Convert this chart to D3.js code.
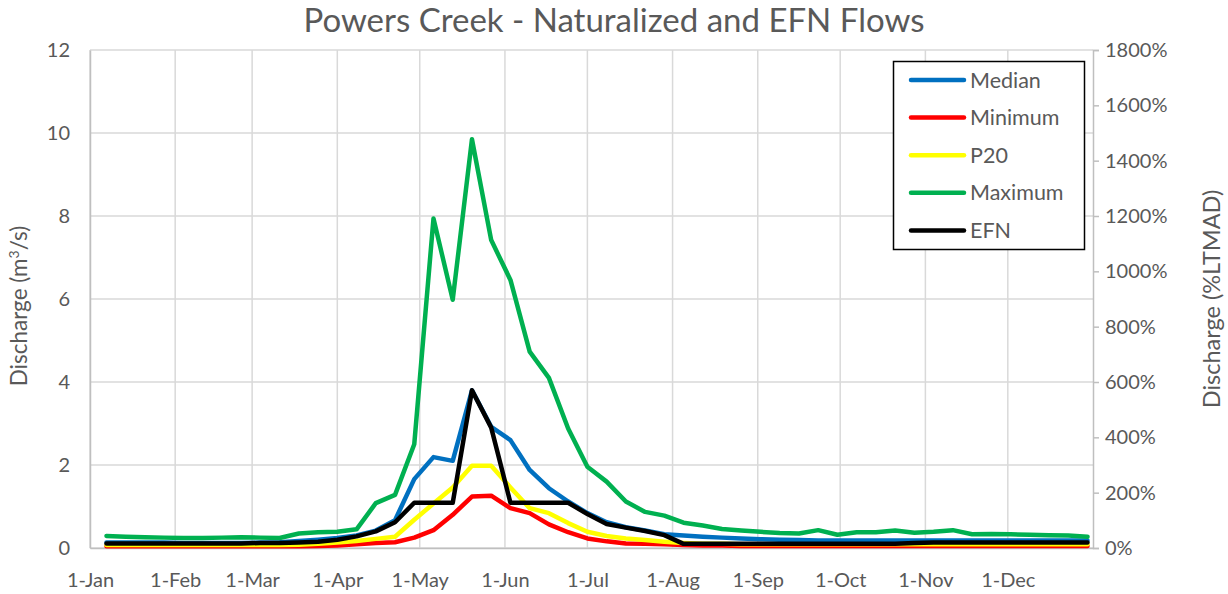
<!DOCTYPE html>
<html>
<head>
<meta charset="utf-8">
<script src="https://cdn.jsdelivr.net/npm/d3@7"></script>
<style>
  html, body { margin: 0; padding: 0; background: #fff; }
  svg { display: block; font-family: Lato, "Open Sans", sans-serif; }
</style>
</head>
<body>
<svg id="chart" width="1228" height="594"></svg>
<script>
// ---- DATA ----
const dates = ["2021-01-07","2021-01-14","2021-01-21","2021-01-28","2021-02-04","2021-02-11","2021-02-18","2021-02-25",
  "2021-03-04","2021-03-11","2021-03-18","2021-03-25","2021-04-01","2021-04-08","2021-04-15","2021-04-22","2021-04-29",
  "2021-05-06","2021-05-13","2021-05-20","2021-05-27","2021-06-03","2021-06-10","2021-06-17","2021-06-24","2021-07-01",
  "2021-07-08","2021-07-15","2021-07-22","2021-07-29","2021-08-05","2021-08-12","2021-08-19","2021-08-26","2021-09-02",
  "2021-09-09","2021-09-16","2021-09-23","2021-09-30","2021-10-07","2021-10-14","2021-10-21","2021-10-28","2021-11-04",
  "2021-11-11","2021-11-18","2021-11-25","2021-12-02","2021-12-09","2021-12-16","2021-12-23","2021-12-30"];

const median = [0.13,0.13,0.13,0.13,0.12,0.12,0.12,0.12,0.13,0.14,0.17,0.20,0.24,0.30,0.42,0.67,1.66,2.19,2.10,3.80,
  2.92,2.60,1.88,1.44,1.12,0.84,0.62,0.50,0.42,0.33,0.30,0.27,0.25,0.23,0.21,0.20,0.19,0.18,0.18,0.18,0.18,0.18,0.18,
  0.18,0.18,0.18,0.18,0.18,0.18,0.18,0.18,0.18];
const minimum = [0.04,0.04,0.04,0.04,0.04,0.04,0.04,0.04,0.04,0.04,0.04,0.05,0.06,0.09,0.12,0.14,0.25,0.43,0.80,1.24,
  1.26,0.96,0.84,0.57,0.38,0.23,0.16,0.11,0.10,0.09,0.07,0.06,0.06,0.05,0.05,0.05,0.05,0.05,0.05,0.05,0.05,0.05,0.05,
  0.05,0.05,0.05,0.05,0.05,0.05,0.05,0.05,0.05];
const p20 = [0.07,0.07,0.07,0.07,0.07,0.07,0.07,0.07,0.07,0.07,0.08,0.10,0.13,0.17,0.22,0.27,0.68,1.07,1.46,1.98,
  1.98,1.46,0.96,0.84,0.60,0.39,0.29,0.23,0.19,0.15,0.12,0.10,0.10,0.09,0.09,0.09,0.09,0.09,0.09,0.09,0.09,0.09,0.09,
  0.09,0.09,0.09,0.09,0.09,0.09,0.09,0.09,0.09];
const maximum = [0.29,0.27,0.26,0.25,0.24,0.24,0.25,0.26,0.25,0.24,0.35,0.38,0.39,0.45,1.08,1.28,2.50,7.94,5.98,9.85,
  7.42,6.46,4.73,4.10,2.88,1.96,1.60,1.12,0.87,0.78,0.61,0.54,0.46,0.42,0.39,0.36,0.35,0.43,0.32,0.38,0.38,0.42,0.37,
  0.39,0.43,0.33,0.34,0.33,0.32,0.31,0.30,0.27];
const efn = [0.11,0.11,0.11,0.11,0.11,0.11,0.11,0.11,0.12,0.12,0.13,0.15,0.20,0.28,0.40,0.62,1.09,1.09,1.09,3.80,
  2.90,1.09,1.09,1.09,1.09,0.82,0.58,0.49,0.41,0.31,0.10,0.10,0.10,0.10,0.10,0.10,0.10,0.10,0.10,0.10,0.10,0.10,0.12,
  0.13,0.13,0.13,0.13,0.13,0.13,0.13,0.13,0.13];

const seriesNames = ["Median","Minimum","P20","Maximum","EFN"];
const seriesColors = ["#0070C0","#FF0000","#FFFF00","#00B050","#000000"];
const seriesValues = [median, minimum, p20, maximum, efn];

const monthTicks = ["2021-01-01","2021-02-01","2021-03-01","2021-04-01","2021-05-01","2021-06-01",
  "2021-07-01","2021-08-01","2021-09-01","2021-10-01","2021-11-01","2021-12-01"];
const leftTicks = [0,2,4,6,8,10,12];
const rightTicks = [0,200,400,600,800,1000,1200,1400,1600,1800];

const titleText = "Powers Creek - Naturalized and EFN Flows";

// ---- LAYOUT ----
const svg = d3.select("#chart");
const W = 1228, H = 594;
const m = {left: 90, right: 135, top: 50, bottom: 46};
const pw = W - m.left - m.right, ph = H - m.top - m.bottom;
const parse = d3.timeParse("%Y-%m-%d");
const textColor = "#595959";
const gridColor = "#d9d9d9";

const x = d3.scaleTime().domain([parse("2021-01-01"), parse("2022-01-01")]).range([m.left, m.left + pw]);
const y = d3.scaleLinear().domain([0, 12]).range([m.top + ph, m.top]);
const y2 = d3.scaleLinear().domain([0, 1800]).range([m.top + ph, m.top]);

const g = svg.append("g");

// grid
g.append("g").selectAll("line").data(leftTicks).join("line")
  .attr("x1", m.left).attr("x2", m.left + pw)
  .attr("y1", d => y(d)).attr("y2", d => y(d))
  .attr("stroke", gridColor).attr("stroke-width", 1.5);
g.append("g").selectAll("line").data(monthTicks).join("line")
  .attr("x1", d => x(parse(d))).attr("x2", d => x(parse(d)))
  .attr("y1", m.top).attr("y2", m.top + ph)
  .attr("stroke", gridColor).attr("stroke-width", 1.5);

// axes
const axisStyle = sel => {
  sel.select(".domain").attr("stroke", "#bfbfbf").attr("stroke-width", 1.5);
  sel.selectAll(".tick line").attr("stroke", "#bfbfbf").attr("stroke-width", 1.5);
  sel.selectAll(".tick text").attr("fill", textColor).style("font-size", "20px")
     .style("font-family", "Lato, 'Open Sans', sans-serif");
};

const xAxis = d3.axisBottom(x).tickValues(monthTicks.map(parse)).tickFormat(d3.timeFormat("%-d-%b"))
  .tickSize(0).tickPadding(39);
g.append("g").attr("transform", `translate(0,${m.top + ph})`).call(xAxis).call(axisStyle)
  .selectAll(".tick text").attr("dy", "0");

const yAxis = d3.axisLeft(y).tickValues(leftTicks).tickSize(0).tickPadding(20);
g.append("g").attr("transform", `translate(${m.left},0)`).call(yAxis).call(axisStyle);

const yAxis2 = d3.axisRight(y2).tickValues(rightTicks).tickFormat(d => d + "%").tickSize(6).tickPadding(6);
g.append("g").attr("transform", `translate(${m.left + pw},0)`).call(yAxis2).call(axisStyle);

// lines
const line = d3.line().x((d, i) => x(parse(dates[i]))).y(d => y(d));
seriesValues.forEach((vals, k) => {
  g.append("path").datum(vals)
    .attr("fill", "none").attr("stroke", seriesColors[k]).attr("stroke-width", 4.5)
    .attr("stroke-linejoin", "round").attr("stroke-linecap", "round")
    .attr("d", line);
});

// title
svg.append("text").attr("x", 614).attr("y", 32).attr("text-anchor", "middle")
  .attr("fill", textColor).style("font-size", "33px").text(titleText);

// axis titles
svg.append("text").attr("transform", `translate(27,${306}) rotate(-90)`)
  .attr("text-anchor", "middle").attr("fill", textColor).style("font-size", "22.5px")
  .html("Discharge (m<tspan baseline-shift='super' font-size='14px'>3</tspan>/s)");
svg.append("text").attr("transform", `translate(1220,${299}) rotate(-90)`)
  .attr("text-anchor", "middle").attr("fill", textColor).style("font-size", "23.5px")
  .text("Discharge (%LTMAD)");

// legend
const lg = svg.append("g");
lg.append("rect").attr("x", 893.5).attr("y", 61.5).attr("width", 191).attr("height", 188)
  .attr("fill", "#fff").attr("stroke", "#000").attr("stroke-width", 1.5);
seriesNames.forEach((name, k) => {
  const cy = 80 + k * 37.6;
  lg.append("line").attr("x1", 911).attr("x2", 964).attr("y1", cy).attr("y2", cy)
    .attr("stroke", seriesColors[k]).attr("stroke-width", 4.5).attr("stroke-linecap", "round");
  lg.append("text").attr("x", 970).attr("y", cy).attr("dy", "0.35em")
    .attr("fill", textColor).style("font-size", "21.5px").text(name);
});
</script>
</body>
</html>
